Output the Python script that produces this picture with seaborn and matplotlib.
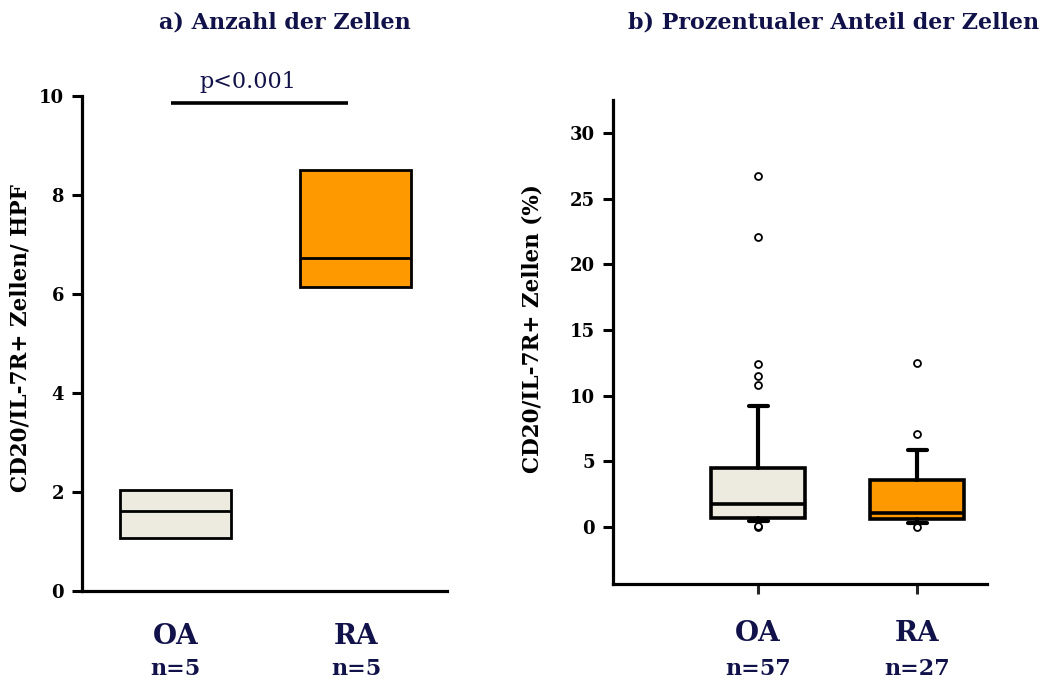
import matplotlib
matplotlib.use("Agg")
import matplotlib.pyplot as plt
import seaborn as sns

# ---- data ---------------------------------------------------------------
groups = ["OA", "RA"]

# a) cells per high-power field (box only: Q1, median, Q3)
count_n = [5, 5]
count_q1 = [1.08, 6.14]
count_med = [1.62, 6.73]
count_q3 = [2.04, 8.50]
p_text = "p<0.001"
p_level = 9.86

# b) percentage of cells
pct_n = [57, 27]
pct_whislo = [0.45, 0.33]
pct_q1 = [0.72, 0.60]
pct_med = [1.72, 1.05]
pct_q3 = [4.50, 3.55]
pct_whishi = [9.20, 5.86]
pct_fliers = [[0.0, 0.1, 10.8, 11.5, 12.4, 22.1, 26.75],
              [0.0, 7.05, 12.5]]

# ---- style --------------------------------------------------------------
sns.set_theme(style="ticks")
plt.rcParams["font.family"] = ["DejaVu Serif"]
navy = "#12124a"
box_colors = ["#EDEBE0", "#FF9900"]

fig = plt.figure(figsize=(10.48, 6.89), dpi=100)
ax1 = fig.add_axes([0.0782, 0.1422, 0.3483, 0.7185])
ax2 = fig.add_axes([0.585, 0.1524, 0.3568, 0.7025])


def style_axis(ax):
    sns.despine(ax=ax)
    for side in ("left", "bottom"):
        ax.spines[side].set_linewidth(2.3)
        ax.spines[side].set_color("black")
    ax.tick_params(axis="y", direction="out", length=7, width=2.2,
                   labelsize=13, colors="black", pad=6)
    for lab in ax.get_yticklabels():
        lab.set_fontweight("bold")
    ax.set_facecolor("white")


# ---- panel a ------------------------------------------------------------
stats_a = [dict(med=m, q1=a, q3=b, whislo=a, whishi=b, fliers=[])
           for a, m, b in zip(count_q1, count_med, count_q3)]
bp = ax1.bxp(stats_a, positions=[0, 1], widths=0.615, patch_artist=True,
             showcaps=False, showfliers=False,
             boxprops=dict(linewidth=2.0, edgecolor="black"),
             medianprops=dict(color="black", linewidth=2.0),
             whiskerprops=dict(linewidth=0))
for patch, c in zip(bp["boxes"], box_colors):
    patch.set_facecolor(c)
ax1.set_xlim(-0.518, 1.504)
ax1.set_ylim(0, 10)
ax1.set_yticks([0, 2, 4, 6, 8, 10])
ax1.set_xticks([])
style_axis(ax1)
ax1.set_ylabel("CD20/IL-7R+ Zellen/ HPF", fontsize=15.5, fontweight="bold",
               color="black")
ax1.yaxis.set_label_coords(-0.137, 0.51)

ax1.plot([-0.025, 0.956], [p_level, p_level], color="black", lw=2.6,
         clip_on=False, solid_capstyle="butt")
ax1.text(0.40, p_level + 0.42, p_text, ha="center", va="center",
         fontsize=16, color=navy, clip_on=False)

for i, (g, n) in enumerate(zip(groups, count_n)):
    ax1.text(i, -0.092, g, transform=ax1.get_xaxis_transform(),
             ha="center", va="center", fontsize=20, fontweight="bold",
             color=navy)
    ax1.text(i, -0.158, f"n={n}", transform=ax1.get_xaxis_transform(),
             ha="center", va="center", fontsize=16, fontweight="bold",
             color=navy)

# ---- panel b ------------------------------------------------------------
stats_b = [dict(med=m, q1=a, q3=b, whislo=lo, whishi=hi, fliers=f)
           for lo, a, m, b, hi, f in zip(pct_whislo, pct_q1, pct_med,
                                         pct_q3, pct_whishi, pct_fliers)]
bp2 = ax2.bxp(stats_b, positions=[0, 1], widths=0.59, patch_artist=True,
              boxprops=dict(linewidth=2.6, edgecolor="black"),
              medianprops=dict(color="black", linewidth=2.6),
              whiskerprops=dict(color="black", linewidth=3.0),
              capprops=dict(color="black", linewidth=3.0),
              capwidths=0.12,
              flierprops=dict(marker="o", markersize=5,
                              markerfacecolor="white",
                              markeredgecolor="black",
                              markeredgewidth=1.3))
for patch, c in zip(bp2["boxes"], box_colors):
    patch.set_facecolor(c)
ax2.set_xlim(-0.912, 1.44)
ax2.set_ylim(-4.34, 32.5)
ax2.set_yticks([0, 5, 10, 15, 20, 25, 30])
ax2.set_xticks([0, 1])
ax2.set_xticklabels([])
style_axis(ax2)
ax2.tick_params(axis="x", direction="out", length=7, width=2.2)
ax2.set_ylabel("CD20/IL-7R+ Zellen (%)", fontsize=15.5, fontweight="bold",
               color="black")
ax2.yaxis.set_label_coords(-0.187, 0.527)

for i, (g, n) in enumerate(zip(groups, pct_n)):
    ax2.text(i, -0.102, g, transform=ax2.get_xaxis_transform(),
             ha="center", va="center", fontsize=20, fontweight="bold",
             color=navy)
    ax2.text(i, -0.176, f"n={n}", transform=ax2.get_xaxis_transform(),
             ha="center", va="center", fontsize=16, fontweight="bold",
             color=navy)

# ---- titles -------------------------------------------------------------
fig.text(285 / 1048, 1 - 22 / 689, "a) Anzahl der Zellen", ha="center",
         va="center", fontsize=16, fontweight="bold", color=navy)
fig.text(834 / 1048, 1 - 22 / 689, "b) Prozentualer Anteil der Zellen",
         ha="center", va="center", fontsize=16, fontweight="bold",
         color=navy)

fig.savefig("out.png", dpi=100, facecolor="white")
